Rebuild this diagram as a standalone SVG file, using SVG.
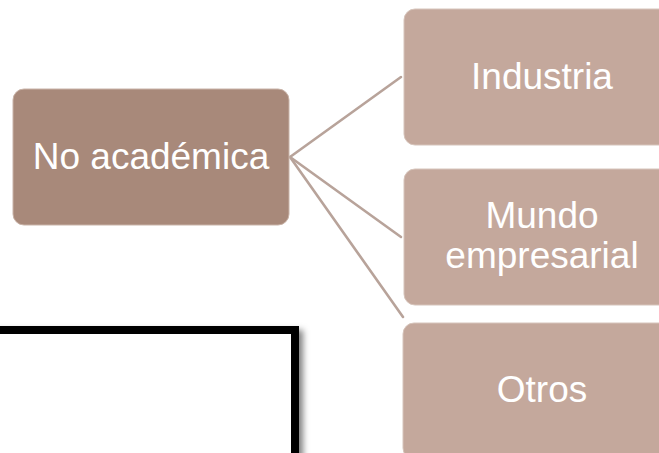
<svg xmlns="http://www.w3.org/2000/svg" width="659" height="453" viewBox="0 0 659 453">
<defs>
<style>
.main{fill:#a8897a;stroke:#c9b3a8;stroke-width:1}
.child{fill:#c4a89c;stroke:#d6c4bb;stroke-width:1}
.lbl{font-family:"Liberation Sans",Arial,sans-serif;font-size:37px;fill:#ffffff;text-anchor:middle}
.conn{stroke:#b8a39a;stroke-width:2.6;fill:none;stroke-linecap:round}
</style>
<filter id="sh" x="-10%" y="-10%" width="130%" height="130%">
<feDropShadow dx="4" dy="4" stdDeviation="3" flood-color="#000" flood-opacity="0.5"/>
</filter>
</defs>
<rect width="659" height="453" fill="#ffffff"/>
<g id="frame">
<rect x="-20" y="330" width="315" height="200" fill="#ffffff" stroke="#000000" stroke-width="8" filter="url(#sh)"/>
</g>
<g id="connectors">
<line class="conn" x1="290" y1="157" x2="401" y2="77"/>
<line class="conn" x1="290" y1="157" x2="401" y2="237"/>
<line class="conn" x1="290" y1="157" x2="403" y2="317"/>
</g>
<g id="node-no-academica">
<rect class="main" x="13" y="89" width="276" height="136" rx="11"/>
<text class="lbl" x="151" y="169">No académica</text>
</g>
<g id="node-industria">
<rect class="child" x="404" y="9" width="276" height="136" rx="11"/>
<text class="lbl" x="542" y="89">Industria</text>
</g>
<g id="node-mundo">
<rect class="child" x="404" y="169" width="276" height="136" rx="11"/>
<text class="lbl" x="542" y="228">Mundo</text>
<text class="lbl" x="542" y="268">empresarial</text>
</g>
<g id="node-otros">
<rect class="child" x="403" y="323" width="276" height="136" rx="11"/>
<text class="lbl" x="542" y="402">Otros</text>
</g>
</svg>
